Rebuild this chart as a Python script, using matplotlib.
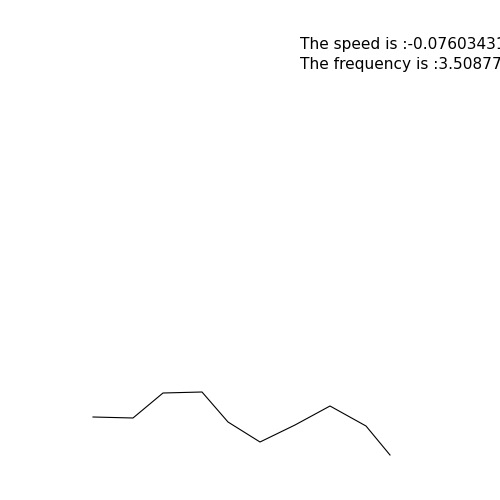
import matplotlib
matplotlib.use("Agg")
import matplotlib.pyplot as plt

# polyline data (screen-like coordinates)
xs = [93, 133, 163, 202, 228, 260, 295, 330, 366, 390]
ys = [417, 418, 393, 392, 422, 442, 425, 406, 426, 455]
speed_text = "The speed is :-0.07603431"
freq_text = "The frequency is :3.5087719"

fig = plt.figure(figsize=(5, 5), dpi=100)
ax = fig.add_axes([0, 0, 1, 1])
ax.set_xlim(0, 500)
ax.set_ylim(500, 0)
ax.axis("off")
ax.plot(xs, ys, color="black", linewidth=0.8)
ax.text(300, 44, speed_text, fontsize=11.1, va="center", ha="left", color="black")
ax.text(300, 65, freq_text, fontsize=11.1, va="center", ha="left", color="black")
fig.savefig("out.png", dpi=100)
